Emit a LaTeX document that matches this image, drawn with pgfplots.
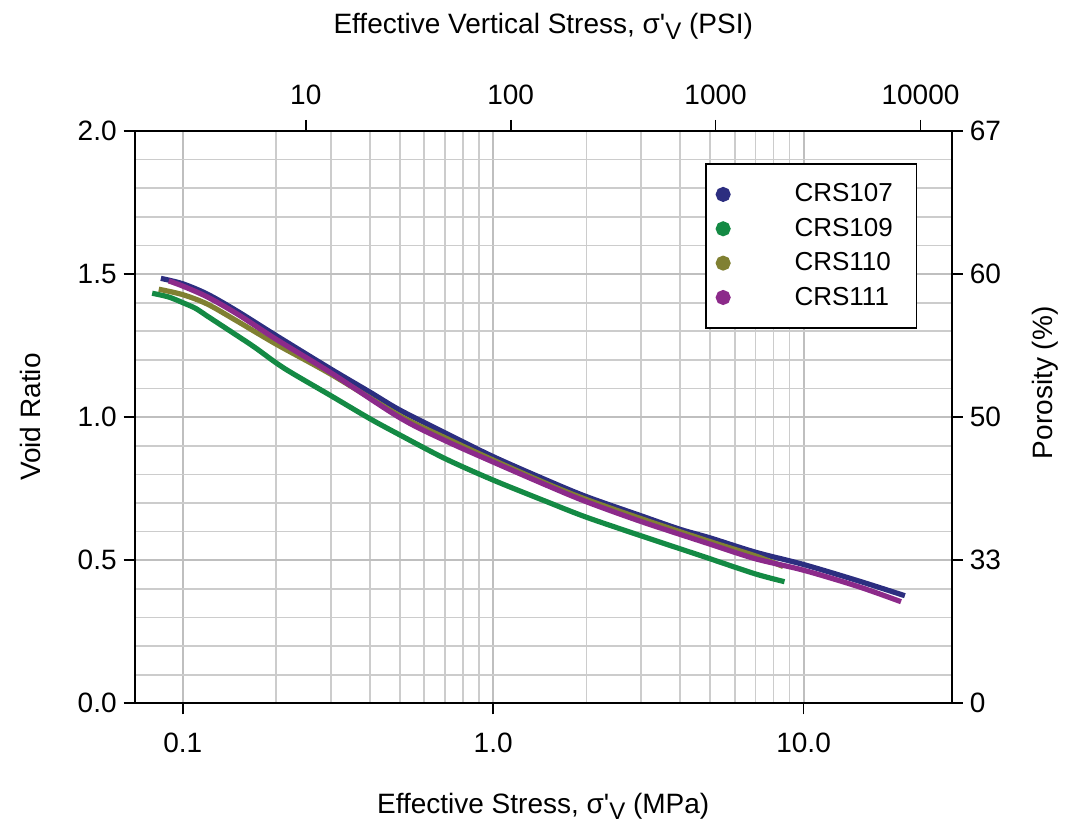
\documentclass[border=0pt]{standalone}
\usepackage{fontspec}
\setmainfont{Liberation Sans}
\usepackage{pgfplots}
\pgfplotsset{compat=1.18}
\usetikzlibrary{calc}
\definecolor{cA}{RGB}{44,46,128}
\definecolor{cB}{RGB}{20,138,68}
\definecolor{cC}{RGB}{128,128,50}
\definecolor{cD}{RGB}{140,42,138}
\newcommand{\tf}{\fontsize{14}{16}\selectfont}
\newcommand{\sv}{σ\textquotesingle\raisebox{-0.4ex}{\fontsize{12}{14}\selectfont V}}
\begin{document}
\begin{tikzpicture}
\pgfplotsset{
  common/.style={scale only axis, width=408.5pt, height=286.15pt,
    ymin=0, ymax=2, tick align=outside, major tick length=5.5pt,
    tick style={black, line width=0.8pt}, axis line style={black, line width=0.9pt},
    ticklabel style={font=\tf}, label style={font=\tf}},
}
\begin{axis}[common, name=ax,
  xmode=log, xmin=0.07, xmax=30,
  xtick={0.1,1,10}, xticklabels={0.1,1.0,10.0},
  ytick={0,0.5,1,1.5,2}, yticklabels={0.0,0.5,1.0,1.5,2.0},
  minor y tick num=4, minor tick length=0pt,
  xtick pos=left, ytick pos=left,
  xticklabel style={yshift=-6pt},
  grid=both,
  major grid style={gray!50, line width=1pt},
  minor grid style={gray!40, line width=0.85pt},
  xlabel={Effective Stress, \sv{} (MPa)},
  ylabel={Void Ratio},
  xlabel style={at={(rel axis cs:0.5,-0.18)}, anchor=center},
  ylabel style={at={(rel axis cs:-0.128,0.5)}, anchor=center},
  legend style={at={(0.698,0.944)}, anchor=north west, draw=black, line width=0.8pt,
    fill=white, font=\fontsize{13}{15}\selectfont, row sep=2.6pt,
    inner xsep=5pt, inner ysep=8pt},
  legend image code/.code={\fill[#1] (2.5pt,0pt) circle (2.4pt);},
  every axis plot/.append style={line width=2.6pt},
]
\addplot[cA, smooth] coordinates {
(0.085,1.485)(0.1,1.466)(0.12,1.43)(0.15,1.37)(0.2,1.285)(0.3,1.168)(0.4,1.088)
(0.5,1.025)(0.7,0.945)(1.0,0.862)(1.5,0.778)(2.0,0.722)(3.0,0.655)(4.0,0.608)
(5.0,0.578)(7.0,0.528)(10,0.485)(15,0.428)(21.2,0.376)};
\addlegendentry{\makebox[84pt][l]{\hspace{30pt}CRS107}}
\addplot[cB, smooth] coordinates {
(0.0797,1.433)(0.09,1.42)(0.1,1.40)(0.11,1.38)(0.12,1.353)(0.1425,1.30)(0.17,1.245)
(0.212,1.171)(0.3,1.075)(0.4,0.995)(0.5,0.938)(0.7,0.855)(1.0,0.780)(1.5,0.703)
(2.0,0.650)(3.0,0.585)(4.0,0.540)(5.0,0.505)(7.0,0.452)(8.68,0.425)};
\addlegendentry{\makebox[84pt][l]{\hspace{30pt}CRS109}}
\addplot[cC, smooth] coordinates {
(0.0837,1.447)(0.1,1.428)(0.12,1.395)(0.15,1.335)(0.2,1.255)(0.3,1.150)(0.5,1.005)
(0.7,0.928)(1.0,0.850)(1.5,0.766)(2.0,0.712)(3.0,0.645)(5.0,0.565)(7.0,0.515)(8.6,0.478)};
\addlegendentry{\makebox[84pt][l]{\hspace{30pt}CRS110}}
\addplot[cD, smooth] coordinates {
(0.0901,1.476)(0.1,1.458)(0.12,1.42)(0.15,1.36)(0.2,1.272)(0.3,1.155)(0.5,0.998)
(0.7,0.918)(1.0,0.843)(1.5,0.760)(2.0,0.704)(3.0,0.635)(5.0,0.556)(7.0,0.505)
(10,0.465)(15,0.408)(20.6,0.355)};
\addlegendentry{\makebox[84pt][l]{\hspace{30pt}CRS111}}
\end{axis}
\begin{axis}[common,
  xmode=log, xmin=1.462, xmax=14200,
  axis x line*=top, axis y line=none,
  xtick={10,100,1000,10000}, xticklabels={10,100,1000,10000},
  xticklabel style={yshift=4pt},
  xminorticks=false,
  xlabel={Effective Vertical Stress, \sv{} (PSI)},
  xlabel style={at={(rel axis cs:0.5,1.183)}, anchor=center},
]
\addplot[draw=none] coordinates {(10,1)};
\end{axis}
\begin{axis}[common,
  xmin=0, xmax=1,
  axis y line*=right, axis x line=none,
  ytick={0,0.5,1,1.5,2}, yticklabels={0,33,50,60,67},
  ylabel={Porosity (\%)},
  ylabel style={at={(rel axis cs:1.115,0.56)}, anchor=center},
]
\addplot[draw=none] coordinates {(0.5,1)};
\end{axis}
\pgfresetboundingbox
\path ($(ax.south west)+(-67.35pt,-62.85pt)$) rectangle ($(ax.north east)+(62.65pt,65.5pt)$);
\end{tikzpicture}
\end{document}
